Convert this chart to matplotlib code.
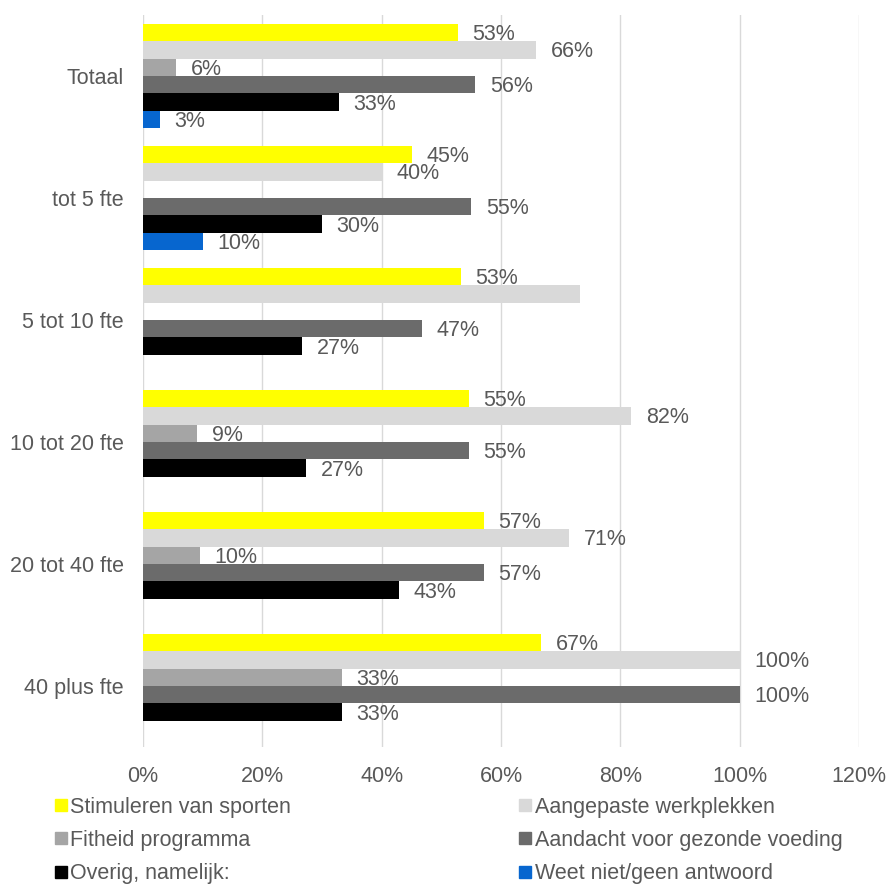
import numpy as np
import matplotlib.pyplot as plt
from matplotlib.lines import Line2D

plt.rcParams['font.family'] = ['Liberation Sans', 'DejaVu Sans']

# Données (en %)
categories = ["Totaal", "tot 5 fte", "5 tot 10 fte", "10 tot 20 fte", "20 tot 40 fte", "40 plus fte"]
series = ["Stimuleren van sporten", "Aangepaste werkplekken", "Fitheid programma",
          "Aandacht voor gezonde voeding", "Overig, namelijk:", "Weet niet/geen antwoord"]
stimuleren = [52.8, 45.0, 53.3, 54.55, 57.1, 66.7]
aangepast = [65.9, 40.0, 73.3, 81.8, 71.4, 100.0]
fitheid = [5.6, 0, 0, 9.1, 9.52, 33.3]
voeding = [55.7, 55.0, 46.7, 54.55, 57.1, 100.0]
overig = [32.8, 30.0, 26.7, 27.3, 42.9, 33.3]
weet_niet = [2.8, 10.0, 0, 0, 0, 0]
# label absent dans l'original (5 tot 10 fte, Aangepaste werkplekken)
labels_caches = [(2, 1)]

colors = ["#FFFF00", "#D9D9D9", "#A5A5A5", "#6B6B6B", "#000000", "#0766CF"]
text_color = "#595959"
fs = 15.5

values = [stimuleren, aangepast, fitheid, voeding, overig, weet_niet]

fig = plt.figure(figsize=(8.89, 8.86), dpi=100)
ax = fig.add_axes([0.1609, 0.1569, 0.9663 - 0.1609, 0.9831 - 0.1569])

y = np.arange(len(categories))
h = 0.1426
for j, vals in enumerate(values):
    pos = y + (j - 2.5) * h
    ax.barh(pos, vals, height=h, color=colors[j], linewidth=0, zorder=2)
    for i, v in enumerate(vals):
        if v == 0 or (i, j) in labels_caches:
            continue
        ax.annotate(f"{v:.0f}%", (v, pos[i]), xytext=(10.5, -1.5), textcoords="offset points",
                    va="center", ha="left", fontsize=fs, color=text_color)

ax.set_xlim(0, 120)
ax.set_ylim(len(categories) - 0.5, -0.5)
ax.set_xticks(np.arange(0, 121, 20))
ax.set_xticklabels([f"{t}%" for t in range(0, 121, 20)])
ax.set_yticks(y)
ax.set_yticklabels(categories)
ax.tick_params(axis="both", length=0, labelsize=fs, labelcolor=text_color)
ax.tick_params(axis="y", pad=14)
ax.tick_params(axis="x", pad=13.5)
ax.grid(axis="x", color="#D9D9D9", linewidth=1, zorder=0)
for s in ax.spines.values():
    s.set_visible(False)

# Légende (ordre ligne par ligne comme l'original)
handles = [Line2D([], [], marker="s", linestyle="", markersize=8, color=c) for c in colors]
order = [0, 2, 4, 1, 3, 5]
leg = fig.legend([handles[k] for k in order], [series[k] for k in order],
                 ncol=2, loc="upper left", bbox_to_anchor=(0.061, 0.101),
                 frameon=False, fontsize=fs, borderpad=0, borderaxespad=0,
                 handlelength=0.6, handletextpad=0.15, columnspacing=10.55,
                 labelspacing=0.58, labelcolor=text_color)

plt.savefig("out.png", dpi=100)
